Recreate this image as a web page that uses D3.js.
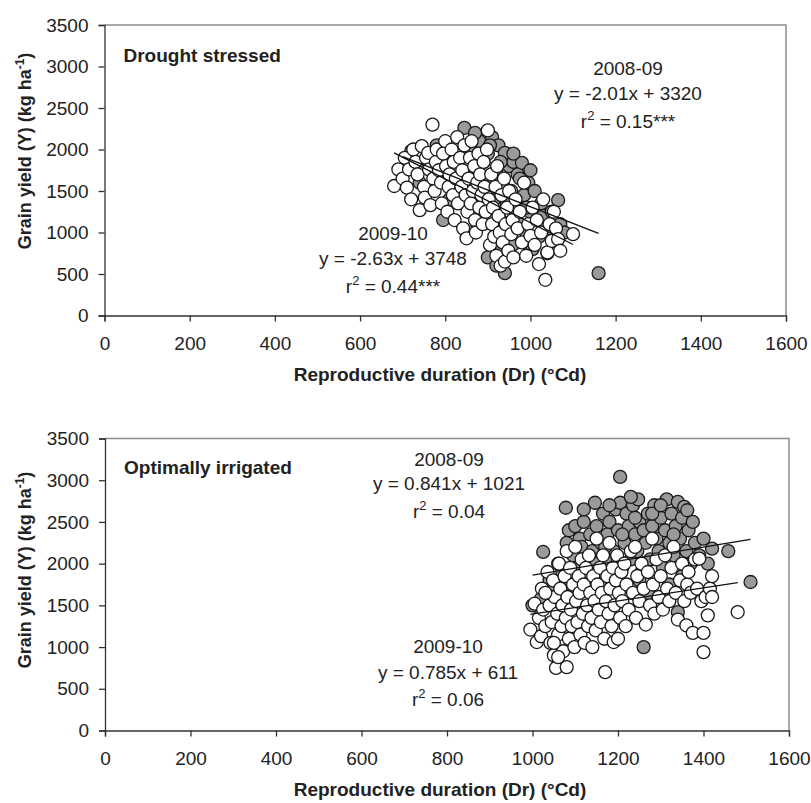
<!DOCTYPE html>
<html>
<head>
<meta charset="utf-8">
<script src="https://cdn.jsdelivr.net/npm/d3@7"></script>
<style>
  body { margin: 0; background: #fff; }
  text { font-family: "Liberation Sans", Arial, sans-serif; fill: #222; }
</style>
</head>
<body>
<div id="chart"></div>
<script>
// Axis ticks
const xTicks = [0, 200, 400, 600, 800, 1000, 1200, 1400, 1600];
const yTicks = [0, 500, 1000, 1500, 2000, 2500, 3000, 3500];

// Drought stressed, 2008-09 (grey) : [Dr, yield]
const drought0809 = [
  [700,1750],[720,1980],[740,1600],[760,1850],[780,2050],[795,1150],[800,1700],[810,1400],
  [820,1900],[830,1550],[845,2260],[850,1800],[855,1300],[860,2000],[870,1650],[875,1100],
  [880,2100],[885,1450],[890,1850],[895,1250],[900,1950],[905,1600],[910,2150],[915,1400],
  [920,1750],[925,2050],[930,1150],[935,1600],[940,1960],[940,510],[945,1350],[950,1800],
  [950,900],[955,1500],[960,1850],[960,860],[965,1250],[970,1700],[975,1100],[980,1840],
  [985,1450],[990,1000],[995,1600],[1000,1250],[1005,800],[1010,1500],[1015,1150],[1020,950],
  [1025,1350],[1030,1200],[1040,750],[1045,1050],[1050,1250],[1055,900],[1065,1390],[1070,1100],
  [1080,1000],[1160,510],[960,1950],[930,1850],[905,2050],[885,1950],[870,2200],[900,700],
  [920,600],[930,800],[945,1100],[975,1650],[990,1300],[1000,1750]
];

// Drought stressed, 2009-10 (white)
const drought0910 = [
  [680,1560],[690,1760],[700,1650],[705,1900],[710,1540],[715,1760],[720,1400],[725,2000],
  [730,1850],[735,1700],[740,1270],[745,2040],[750,1550],[752,1420],[755,1900],[760,1960],
  [762,1760],[765,1330],[770,2300],[772,1650],[775,1500],[778,1850],[780,2000],[785,1750],
  [790,1600],[792,1350],[795,1950],[800,2100],[802,1800],[805,1250],[808,1550],[810,1700],
  [815,2000],[818,1450],[820,1850],[822,1150],[825,1650],[828,2150],[830,1350],[835,1900],
  [838,1550],[840,1750],[842,1050],[845,2050],[848,1450],[850,930],[852,1250],[855,1650],
  [858,1900],[860,1350],[862,2100],[865,1500],[868,1800],[870,1150],[872,1000],[875,1600],
  [878,1950],[880,1300],[882,1700],[885,1450],[888,1100],[890,1850],[892,1550],[895,1250],
  [898,2000],[900,2230],[902,1400],[905,850],[908,1700],[910,1100],[912,1300],[915,950],
  [918,1550],[920,720],[922,1800],[925,1200],[928,1000],[930,600],[932,1450],[935,880],
  [938,1650],[940,650],[942,1100],[945,1300],[948,780],[950,1500],[955,980],[958,1150],
  [960,700],[965,1400],[970,1050],[975,1250],[980,880],[985,1600],[990,720],[995,1100],
  [1000,960],[1005,1300],[1010,850],[1015,1150],[1020,620],[1025,1000],[1030,1400],[1035,430],
  [1040,760],[1045,1100],[1050,900],[1055,1250],[1060,1050],[1065,920],[1070,780],[1100,980]
];

// Optimally irrigated, 2008-09 (grey)
const irrigated0809 = [
  [1000,1500],[1020,1580],[1025,2140],[1040,1800],[1050,1700],[1060,2000],[1070,1900],[1078,2670],
  [1080,2250],[1085,2400],[1090,1750],[1095,2100],[1100,2450],[1105,1950],[1110,2300],[1115,2200],
  [1120,2500],[1125,2050],[1130,1850],[1135,2350],[1140,2150],[1146,2730],[1150,2450],[1155,1900],
  [1160,2250],[1165,2600],[1170,2050],[1175,2350],[1180,2500],[1185,1800],[1190,2150],[1195,2650],
  [1200,2400],[1205,3040],[1205,2730],[1210,1950],[1215,2250],[1220,2600],[1225,2450],[1230,2050],
  [1235,2700],[1240,2350],[1245,2150],[1247,2770],[1250,2500],[1255,1900],[1260,1000],[1260,2400],
  [1265,2250],[1270,2600],[1275,2050],[1280,2450],[1285,2700],[1290,2300],[1295,2150],[1300,2550],
  [1305,1950],[1310,2400],[1314,2770],[1320,2250],[1325,2600],[1330,2100],[1335,2450],[1340,1420],
  [1340,2740],[1345,2300],[1350,2550],[1355,2680],[1360,2150],[1362,2640],[1365,2400],[1370,2000],
  [1375,2500],[1380,2250],[1390,2100],[1400,2300],[1410,2000],[1420,2180],[1458,2150],[1510,1780],
  [1180,2700],[1120,2650],[1280,2600],[1230,2800],[1300,2700],[1150,2000],[1200,1700],[1250,1800],
  [1320,1750],[1350,1850],[1270,1650],[1100,1650],[1060,1600],[1240,2550],[1170,2200],[1330,2350],
  [1210,2350]
];

// Optimally irrigated, 2009-10 (white)
const irrigated0910 = [
  [995,1210],[1005,1520],[1010,1060],[1015,1350],[1020,1130],[1022,1700],[1025,1450],[1030,1250],
  [1035,1900],[1040,1500],[1042,1050],[1045,1300],[1048,1800],[1050,900],[1052,1600],[1055,750],
  [1058,1400],[1060,1150],[1062,2000],[1065,1700],[1068,1250],[1070,1500],[1072,950],[1075,1850],
  [1078,1350],[1080,760],[1080,2150],[1082,1600],[1085,1100],[1088,1950],[1090,1450],[1092,1250],
  [1095,1750],[1098,1000],[1100,2200],[1102,1550],[1105,1300],[1108,1850],[1110,1650],[1112,1150],
  [1115,2050],[1118,1400],[1120,1750],[1122,1050],[1125,1950],[1128,1500],[1130,1250],[1132,2100],
  [1135,1650],[1138,1350],[1140,1000],[1142,1850],[1145,1550],[1148,1200],[1150,2300],[1152,1750],
  [1155,1450],[1158,1950],[1160,1300],[1162,1650],[1165,2100],[1168,1100],[1170,700],[1172,1550],
  [1175,1850],[1178,1400],[1180,2250],[1182,1700],[1185,1250],[1188,1950],[1190,1060],[1192,1500],
  [1195,1800],[1198,2100],[1200,1100],[1202,1650],[1205,1350],[1208,1900],[1210,1550],[1215,2000],
  [1218,1250],[1220,1750],[1225,1450],[1230,2150],[1235,1650],[1240,2200],[1242,1350],[1245,1850],
  [1250,1550],[1255,2000],[1260,1700],[1265,1270],[1270,1900],[1275,1500],[1280,2300],[1282,1750],
  [1285,1400],[1290,2050],[1295,1600],[1300,1850],[1305,1450],[1310,2100],[1315,1700],[1320,1550],
  [1325,1950],[1330,2200],[1335,1650],[1340,1330],[1345,1800],[1350,2000],[1355,1550],[1360,1260],
  [1362,1750],[1365,1900],[1370,1650],[1375,1170],[1380,2050],[1385,1700],[1390,2060],[1395,1550],
  [1400,940],[1400,1170],[1405,1600],[1410,1380],[1415,1700],[1420,1850],[1420,1600],[1480,1420],
  [1050,1050],[1030,1650],[1060,880]
];

// Regression coefficients [slope, intercept]
const fitDrought0809 = [-2.01, 3320];
const fitDrought0910 = [-2.63, 3748];
const fitIrrigated0809 = [0.841, 1021];
const fitIrrigated0910 = [0.785, 611];

const svg = d3.select("#chart")
    .append("svg")
    .attr("width", 811)
    .attr("height", 803);

function drawPanel(p) {
    const x = d3.scaleLinear().domain([0, 1600]).range([p.left, p.right]);
    const y = d3.scaleLinear().domain([0, 3500]).range([p.bottom, p.top]);
    const g = svg.append("g");

    // top and right frame (grey)
    g.append("path")
        .attr("d", `M${p.left},${p.top}H${p.right}V${p.bottom}`)
        .attr("fill", "none")
        .attr("stroke", "#8c8c8c")
        .attr("stroke-width", 1.5);

    // axes
    const xAxis = g.append("g")
        .attr("transform", `translate(0,${p.bottom})`)
        .call(d3.axisBottom(x).tickValues(xTicks).tickFormat(d3.format("d"))
            .tickSizeOuter(0).tickSize(6).tickPadding(15));
    const yAxis = g.append("g")
        .attr("transform", `translate(${p.left},0)`)
        .call(d3.axisLeft(y).tickValues(yTicks).tickFormat(d3.format("d"))
            .tickSizeOuter(0).tickSize(6).tickPadding(10));
    [xAxis, yAxis].forEach(a => {
        a.selectAll("path, line").attr("stroke", "#333").attr("stroke-width", 1.3);
        a.selectAll("text").style("font-size", "19px").attr("fill", "#222");
    });

    // points: 2008-09 grey first, 2009-10 white on top
    [[p.s0809, "#9a9a9a"], [p.s0910, "#fff"]].forEach(([data, fill]) => {
        g.append("g")
            .selectAll("circle")
            .data(data)
            .enter().append("circle")
            .attr("cx", d => x(d[0]))
            .attr("cy", d => y(d[1]))
            .attr("r", 6.5)
            .attr("fill", fill)
            .attr("stroke", "#1a1a1a")
            .attr("stroke-width", 1.3);
    });

    // trend lines over each series' Dr range
    [[p.s0809, p.f0809], [p.s0910, p.f0910]].forEach(([data, f]) => {
        const ext = d3.extent(data, d => d[0]);
        g.append("line")
            .attr("x1", x(ext[0])).attr("y1", y(f[0] * ext[0] + f[1]))
            .attr("x2", x(ext[1])).attr("y2", y(f[0] * ext[1] + f[1]))
            .attr("stroke", "#111")
            .attr("stroke-width", 1.3);
    });

    // panel label
    g.append("text")
        .attr("x", p.left + 19)
        .attr("y", p.top + p.labelDy)
        .style("font-size", "19px")
        .style("font-weight", "bold")
        .text(p.label);

    // equations
    p.eqs.forEach(e => {
        const t = g.append("g").attr("text-anchor", "middle").style("font-size", "19px");
        t.append("text").attr("x", e.x).attr("y", e.y[0]).text(e.year);
        t.append("text").attr("x", e.x).attr("y", e.y[1]).text(e.eq);
        const r = t.append("text").attr("x", e.x).attr("y", e.y[2]);
        r.append("tspan").text("r");
        r.append("tspan").attr("dy", -8).style("font-size", "13px").text("2");
        r.append("tspan").attr("dy", 8).text(" = " + e.r2);
    });

    // axis titles
    g.append("text")
        .attr("x", 440)
        .attr("y", p.bottom + 65)
        .attr("text-anchor", "middle")
        .style("font-size", "19px")
        .style("font-weight", "bold")
        .text("Reproductive duration (Dr) (°Cd)");

    const yt = g.append("text")
        .attr("transform", `translate(31,${p.yTitleC}) rotate(-90)`)
        .attr("text-anchor", "middle")
        .style("font-size", "18px")
        .style("font-weight", "bold");
    yt.append("tspan").text("Grain yield (Y) (kg ha");
    yt.append("tspan").attr("dy", -7).style("font-size", "12px").text("-1");
    yt.append("tspan").attr("dy", 7).text(")");
}

drawPanel({
    left: 104.5, right: 786, top: 25, bottom: 315.5,
    s0809: drought0809, s0910: drought0910,
    f0809: fitDrought0809, f0910: fitDrought0910,
    label: "Drought stressed", labelDy: 37, yTitleC: 151,
    eqs: [
        { x: 628, y: [75, 100, 128], year: "2008-09", eq: "y = -2.01x + 3320", r2: "0.15***" },
        { x: 393, y: [240, 265, 293], year: "2009-10", eq: "y = -2.63x + 3748", r2: "0.44***" }
    ]
});

drawPanel({
    left: 105, right: 789, top: 438.5, bottom: 730.5,
    s0809: irrigated0809, s0910: irrigated0910,
    f0809: fitIrrigated0809, f0910: fitIrrigated0910,
    label: "Optimally irrigated", labelDy: 35, yTitleC: 570,
    eqs: [
        { x: 449, y: [466, 490, 518], year: "2008-09", eq: "y = 0.841x + 1021", r2: "0.04" },
        { x: 448, y: [653, 679, 706], year: "2009-10", eq: "y = 0.785x + 611", r2: "0.06" }
    ]
});
</script>
</body>
</html>
